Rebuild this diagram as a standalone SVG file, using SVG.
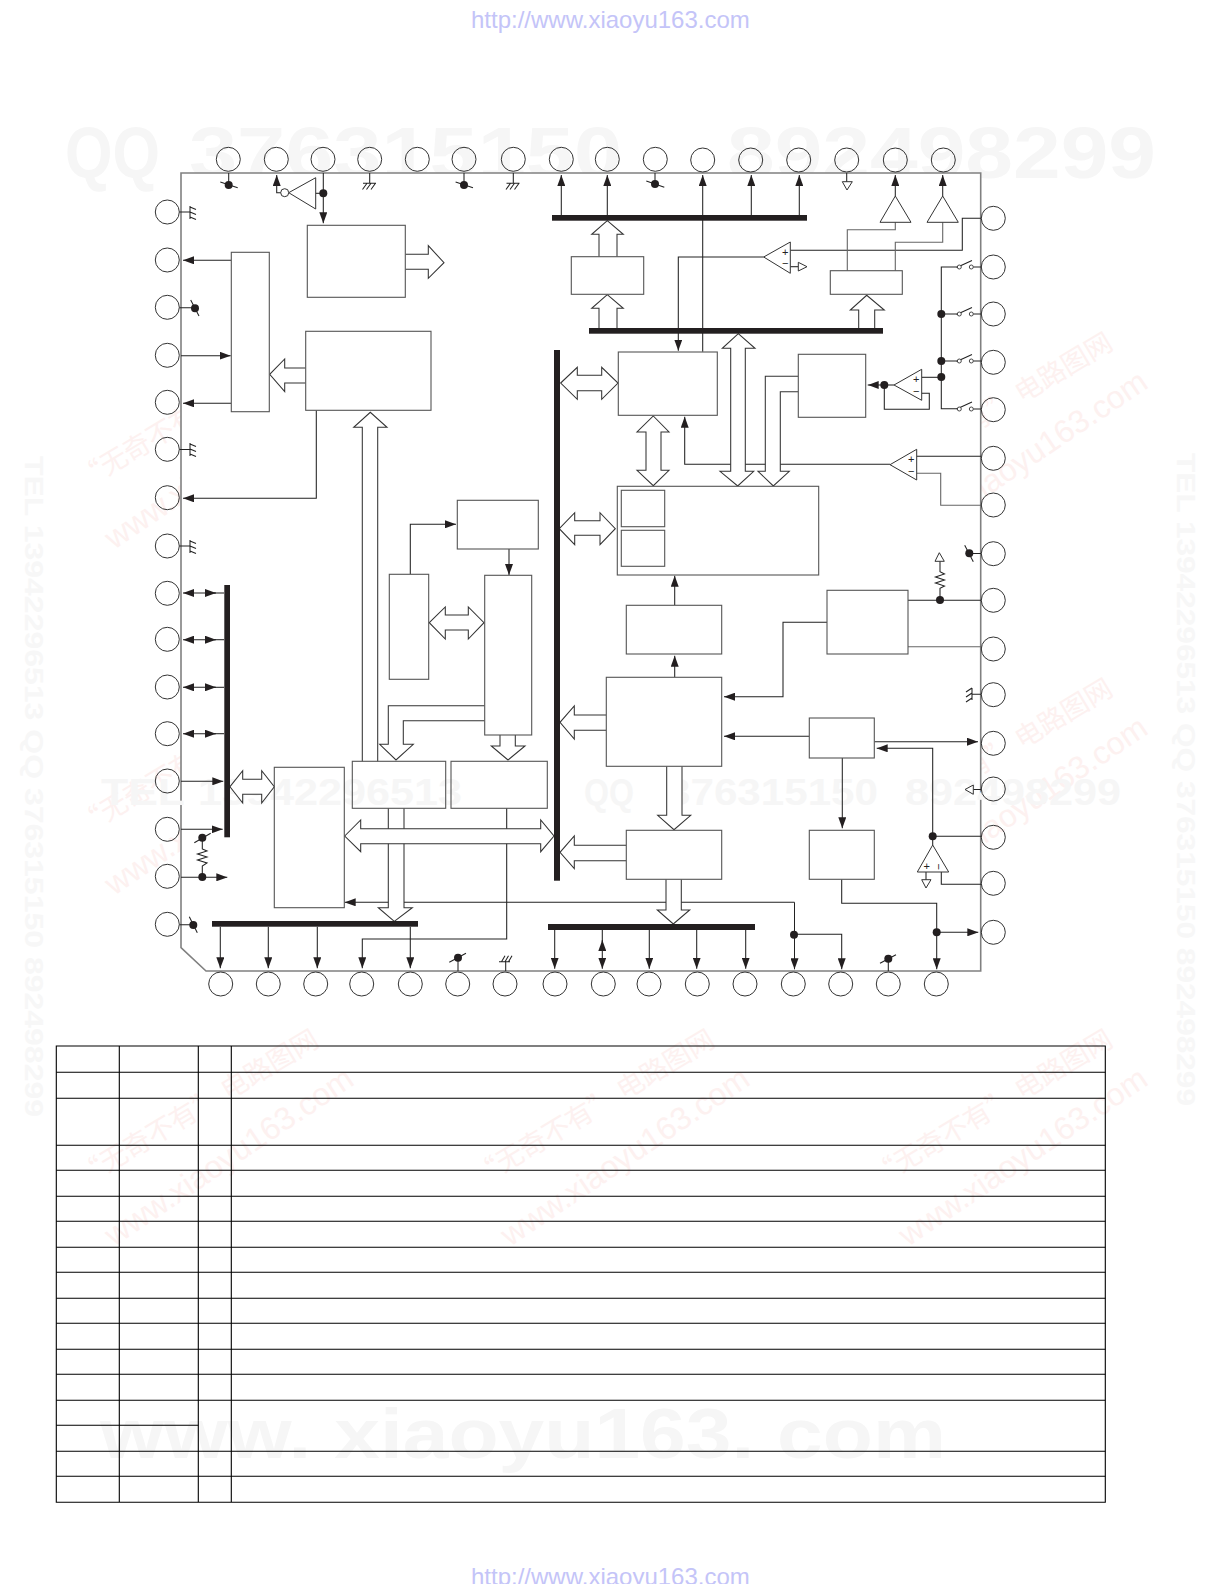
<svg xmlns="http://www.w3.org/2000/svg" width="1222" height="1584" viewBox="0 0 1222 1584">
<style>
.u{font-family:"Liberation Sans",Arial,sans-serif;font-size:24px;fill:#c4c4f8}
.big{font-family:"Liberation Sans",Arial,sans-serif;font-weight:bold;fill:#f6f6f6}
.side{font-family:"Liberation Sans",Arial,sans-serif;font-weight:bold;font-size:25px;fill:#f7f7f7}
.st1{font-family:"Noto Sans CJK SC","Liberation Sans",sans-serif;font-size:27px;fill:#fdf1f0}
.st2{font-family:"Liberation Sans",Arial,sans-serif;font-size:32px;fill:#fdf1f0}
.pin circle{fill:none;stroke:#333;stroke-width:1}
.box{fill:#fff;stroke:#555;stroke-width:1.1}
.ln{fill:none;stroke:#222;stroke-width:1.05}
.gr{fill:none;stroke:#666;stroke-width:1.1}
.ar{fill:none;stroke:#222;stroke-width:1.05;marker-end:url(#h)}
.ad{fill:none;stroke:#222;stroke-width:1.05;marker-end:url(#h);marker-start:url(#hs)}
.ho{fill:#fff;stroke:#333;stroke-width:1.05}
.tri{fill:#fff;stroke:#333;stroke-width:1}
.bus{fill:#231f20}
.dot{fill:#231f20}
.sw{fill:#fff;stroke:#333;stroke-width:.9}
.pm{font-family:"Liberation Sans",Arial,sans-serif;font-size:11px;fill:#222;text-anchor:middle}
.tb{fill:none;stroke:#000;stroke-width:1.1}
</style>
<defs>
<marker id="h" markerUnits="userSpaceOnUse" markerWidth="11" markerHeight="8" viewBox="0 0 11 8" refX="11" refY="4" orient="auto"><path d="M0,0 L11,4 L0,8Z" fill="#231f20"/></marker>
<marker id="hs" markerUnits="userSpaceOnUse" markerWidth="11" markerHeight="8" viewBox="0 0 11 8" refX="11" refY="4" orient="auto-start-reverse"><path d="M0,0 L11,4 L0,8Z" fill="#231f20"/></marker>
</defs>
<rect width="1222" height="1584" fill="#fff"/>
<g id="watermarks-back">
<text class="big" font-size="72" x="65" y="178" textLength="95" lengthAdjust="spacingAndGlyphs">QQ</text>
<text class="big" font-size="72" x="189" y="178" textLength="433" lengthAdjust="spacingAndGlyphs">376315150</text>
<text class="big" font-size="72" x="727" y="178" textLength="429" lengthAdjust="spacingAndGlyphs">892498299</text>
<text class="side" transform="rotate(90 25 456)" x="25" y="456" textLength="661" lengthAdjust="spacingAndGlyphs">TEL 13942296513 QQ 376315150 892498299</text>
<text class="side" transform="rotate(90 1177 453)" x="1177" y="453" textLength="653" lengthAdjust="spacingAndGlyphs">TEL 13942296513 QQ 376315150 892498299</text>
<g transform="translate(84 490)"><text class="st1" transform="rotate(-31)">“无奇不有” 电路图网</text><text class="st2" transform="translate(30 60) rotate(-34)">www.xiaoyu163.com</text></g>
<g transform="translate(84 836)"><text class="st1" transform="rotate(-31)">“无奇不有” 电路图网</text><text class="st2" transform="translate(30 60) rotate(-34)">www.xiaoyu163.com</text></g>
<g transform="translate(878 490)"><text class="st1" transform="rotate(-31)">“无奇不有” 电路图网</text><text class="st2" transform="translate(30 60) rotate(-34)">www.xiaoyu163.com</text></g>
<g transform="translate(878 836)"><text class="st1" transform="rotate(-31)">“无奇不有” 电路图网</text><text class="st2" transform="translate(30 60) rotate(-34)">www.xiaoyu163.com</text></g>
<g transform="translate(84 1187)"><text class="st1" transform="rotate(-31)">“无奇不有” 电路图网</text><text class="st2" transform="translate(30 60) rotate(-34)">www.xiaoyu163.com</text></g>
<g transform="translate(480 1187)"><text class="st1" transform="rotate(-31)">“无奇不有” 电路图网</text><text class="st2" transform="translate(30 60) rotate(-34)">www.xiaoyu163.com</text></g>
<g transform="translate(878 1187)"><text class="st1" transform="rotate(-31)">“无奇不有” 电路图网</text><text class="st2" transform="translate(30 60) rotate(-34)">www.xiaoyu163.com</text></g>
<text class="big" font-size="70" x="100" y="1458" textLength="846" lengthAdjust="spacingAndGlyphs">www. xiaoyu163. com</text>
</g>
<text class="u" x="471" y="28">http://www.xiaoyu163.com</text>
<text class="u" x="471" y="1584.5">http://www.xiaoyu163.com</text>

<path id="chip-frame" d="M181,173 H980.7 V971 H206 L181,947.7Z" fill="#fff" stroke="#808080" stroke-width="1.6"/>
<g id="watermarks-front">
<text class="big" font-size="37" x="101" y="805" textLength="84" lengthAdjust="spacingAndGlyphs">TEL</text>
<text class="big" font-size="37" x="198" y="805" textLength="264" lengthAdjust="spacingAndGlyphs">13942296513</text>
<text class="big" font-size="37" x="584" y="805" textLength="50" lengthAdjust="spacingAndGlyphs">QQ</text>
<text class="big" font-size="37" x="667" y="805" textLength="211" lengthAdjust="spacingAndGlyphs">376315150</text>
<text class="big" font-size="37" x="905" y="805" textLength="216" lengthAdjust="spacingAndGlyphs">892498299</text>
</g>

<g id="connectors">
<!-- thin signal lines -->
<path class="ar" d="M231.3,260.3H183"/>
<path class="ar" d="M181,355.7H230.7"/>
<path class="ar" d="M231.3,403.3H183"/>
<path class="ar" d="M316.3,410.3V498.3H183"/>
<path class="ar" d="M410.3,574.3V524.3H456"/>
<path class="ar" d="M509,549V575"/>
<path class="ln" d="M228.7,173V185M464,173V185"/>
<path class="ln" d="M220.3,182L237.7,187.7M455.6,182L473,187.7M646.3,181L664.3,187.3"/>
<path class="ln" d="M655,173V184"/>
<path class="ar" d="M284.7,192.7H276.7V175"/>
<path class="ar" d="M323.3,173V223.3"/>
<path class="ln" d="M315.7,193.3H323.3"/>
<path class="ar" d="M561.3,215V175"/>
<path class="ar" d="M607.3,215V175"/>
<path class="ar" d="M702.7,351.7V175"/>
<path class="ar" d="M751.3,215V175"/>
<path class="ar" d="M799.3,215V175"/>
<path class="ar" d="M763.7,257H678.3V350.7"/>
<path class="ln" d="M790.3,250.3H962.3V218.3H981"/>
<path class="ln" d="M790.3,266.7H798.3"/>
<path class="ar" d="M895.3,196V175"/>
<path class="ar" d="M942.7,196V175"/>
<path class="gr" d="M895.3,222.3V229.7H847.3V270.7"/>
<path class="gr" d="M942.7,222.3V242.3H895.3V270.7"/>
<path class="ln" d="M846.7,173V182"/>
<path class="ln" d="M958.3,267H941.3V408.7H958.3"/>
<path class="ln" d="M941.3,314H958.3M941.3,361H958.3M973.3,267H981M973.3,314H981M973.3,361H981M973.3,409H981"/>
<path class="ln" d="M921.7,377.3H941.3"/>
<path class="ln" d="M921.7,393.3H929.3V409.3H884.3V385"/>
<path class="ar" d="M894,385H867.7"/>
<path class="ln" d="M916.7,456.3H981"/>
<path class="gr" d="M916.7,473.3H940.7V505.3H981"/>
<path class="ar" d="M890,464.3H684.7V416.7"/>
<path class="ln" d="M981,553.5H971"/>
<path class="ln" d="M908,600.3H981"/>
<path class="gr" d="M908,646.7H981"/>
<path class="ar" d="M827,622.3H783V696.7H724"/>
<path class="ar" d="M674.7,605.3V575.7"/>
<path class="ar" d="M674.7,677.3V655.7"/>
<path class="ar" d="M809.3,736.3H724"/>
<path class="ar" d="M874.3,741.7H978"/>
<path class="ar" d="M932.7,845V748.3H876.7"/>
<path class="ln" d="M932.7,836.3H981"/>
<path class="ln" d="M926,872V880M941.3,872V884.3H981"/>
<path class="ar" d="M842.3,758V828.3"/>
<path class="ar" d="M841.7,879.3V903.3H936.7V969.3"/>
<path class="ar" d="M936.7,932.3H978.3"/>
<path class="ar" d="M794.5,902.3V969.3"/>
<path class="ar" d="M794,934.3H841.7V969.3"/>
<path class="ar" d="M794.5,902.3H344.7"/>
<path class="ar" d="M506.7,808.3V939H362.3V968.3"/>
<path class="ar" d="M220.3,926.7V968.3"/>
<path class="ar" d="M268.3,926.7V968.3"/>
<path class="ar" d="M317.3,926.7V968.3"/>
<path class="ar" d="M410.3,926.7V968.3"/>
<path class="ar" d="M554.7,930V968.7"/>
<path class="ad" d="M602.3,940V968.7"/><path class="ln" d="M602.3,930V942"/>
<path class="ar" d="M649.3,930V968.7"/>
<path class="ar" d="M696.7,930V968.7"/>
<path class="ar" d="M745.7,930V968.7"/>
<path class="ad" d="M183,593H216"/><path class="ln" d="M214,593H224"/>
<path class="ad" d="M183,639.7H216"/><path class="ln" d="M214,639.7H224"/>
<path class="ad" d="M183,687.3H216"/><path class="ln" d="M214,687.3H224"/>
<path class="ad" d="M183,733.7H216"/><path class="ln" d="M214,733.7H224"/>
<path class="ar" d="M181,781.3H223.3"/>
<path class="ar" d="M181,829.3H222.7"/>
<path class="ar" d="M181,877.3H227.3"/>
<path class="ln" d="M202.3,837.7V849L207,851L197.5,854L207,857L197.5,860L207,863L202.3,866V877"/>
<path class="ln" d="M194.3,842.7L210.7,833.3"/>
<path class="ln" d="M940,561.3V571.7L944.5,574L935.5,577L944.5,580L935.5,583L944.5,586L940,588.3V600"/>
<!-- no-connect marks -->
<path class="ln" d="M179.3,307.7H195M190.7,300L199,316"/>
<path class="ln" d="M179.3,924.7H193.3M189.3,916.7L197.3,932.7"/>
<path class="ln" d="M458,971V958M449.3,962.3L466,953.3"/>
<path class="ln" d="M888.3,971V958.7M880,963.3L896,954.7"/>
<path class="ln" d="M964.7,545.3L973.3,561.7"/>
<!-- grounds -->
<path class="ln" d="M369.7,173V183.3M363,183.3H376M367,183.3L362.5,189.5M371,183.3L366.5,189.5M375.5,183.3L371,189.5"/>
<path class="ln" d="M513.3,173V183.3M506.5,183.3H519.5M510.5,183.3L506,189.5M514.5,183.3L510,189.5M519,183.3L514.5,189.5"/>
<path class="ln" d="M179.3,212H190M190,206V219M190,207L196,209.5M190,212L196,214.5M190,217L196,219.5"/>
<path class="ln" d="M179.3,449.5H190M190,443V456M190,444L196,446.5M190,449L196,451.5M190,454L196,456.5"/>
<path class="ln" d="M179.3,546H190M190,540V553M190,541L196,543.5M190,546L196,548.5M190,551L196,553.5"/>
<path class="ln" d="M505.7,971V961.7M499,961.7H510M501.5,961.7L505,955.7M505,961.7L508.5,955.7M508.5,961.7L512,955.7"/>
<path class="ln" d="M981,694.3H972M972,688V700M972,688L966,692M972,693L966,697M972,698L966,702"/>
<path class="ln" d="M981,789.5H973.3"/>
<!-- hollow buses -->
<path class="ho" d="M405.3,254.3H428.3V245.7L444,262.7L428.3,278.3V269.3H405.3"/>
<path class="ho" d="M305.7,368H284.7V359L269.7,374.3L284.7,391.7V383H305.7"/>
<path class="ho" d="M362.3,761.3V427.3H353.7L370.3,412.3L387,427.3H377.7V761.3"/>
<path class="ho" d="M599,256.7V234.3H591.7L607.3,220.7L623.3,234.3H617V256.7"/>
<path class="ho" d="M599,328V308.3H591.7L607.3,294.7L623.3,308.3H617V328"/>
<path class="ho" d="M858.7,328V310H850.3L866.7,295.3L884.3,310H874.7V328"/>
<path class="ho" d="M738.3,333.7L755,348.3H745.3V471.3H753.7L737.7,486L720,471.3H730.7V348.3H722.3Z"/>
<path class="ho" d="M798.3,376.3H765.3V471.3H758L773.3,486L789.3,471.3H780.3V391.7H798.3"/>
<path class="ho" d="M560.7,383L577.3,367.3V375.3H601.7V367.3L618,383L601.7,399.3V390.7H577.3V399.3Z"/>
<path class="ho" d="M653.3,416L669,432H661V470.3H669L653.3,485.7L637,470.3H646V432H637Z"/>
<path class="ho" d="M559.3,528.7L574.7,512.7V520.7H600V512.7L615.3,528.7L600,544.7V535.3H574.7V544.7Z"/>
<path class="ho" d="M429.3,622.7L445.3,607V615H468.3V607L484,622.7L468.3,639V630H445.3V639Z"/>
<path class="ho" d="M484.7,705.7H388.3V744.3H379.7L396,760L413.3,744.3H403.3V720.7H484.7"/>
<path class="ho" d="M500,735V746H491.3L508,760L525,746H515.3V735"/>
<path class="ho" d="M606.3,715H574.3V706L560,722.3L574.3,739V730.3H606.3"/>
<path class="ho" d="M666.7,766.3V815.3H657.7L674,829.7L690.7,815.3H682V766.3"/>
<path class="ho" d="M626.3,845.3H574.3V836L560,852.3L574.3,868.7V860.7H626.3"/>
<path class="ho" d="M666,879.3V910H657.3L673.3,924L689.7,910H681.3V879.3"/>
<path class="ho" d="M388.3,808.3V907.7H378.3L394.3,921.3L412.3,907.7H404V808.3"/>
<path class="ho" d="M344.7,836L360.7,820V828.7H540.7V820L554,836L540.7,851.7V843.7H360.7V851.7Z"/>
<path class="ho" d="M230,786.7L242.7,770.7V779.3H261.7V770.7L274.3,786.7L261.7,803V794.3H242.7V803Z"/>
<!-- buses -->
<rect class="bus" x="552" y="215" width="255" height="5.7"/>
<rect class="bus" x="589" y="328" width="294" height="5.7"/>
<rect class="bus" x="554" y="350" width="6" height="530.7"/>
<rect class="bus" x="224.3" y="585" width="5.7" height="252.3"/>
<rect class="bus" x="212" y="921" width="206" height="5.7"/>
<rect class="bus" x="548" y="924" width="207" height="6"/>
<!-- junction dots -->
<circle class="dot" cx="228.7" cy="185" r="4"/><circle class="dot" cx="464" cy="185" r="4"/><circle class="dot" cx="655" cy="184" r="4"/>
<circle class="dot" cx="323.3" cy="193.3" r="4"/>
<circle class="dot" cx="195" cy="308.3" r="4"/><circle class="dot" cx="193.3" cy="925" r="4"/>
<circle class="dot" cx="202.3" cy="837.7" r="4"/><circle class="dot" cx="202.3" cy="877" r="4"/>
<circle class="dot" cx="458" cy="957.7" r="4"/><circle class="dot" cx="888.3" cy="958.7" r="4"/>
<circle class="dot" cx="969.3" cy="553.3" r="4"/><circle class="dot" cx="940" cy="600" r="4"/>
<circle class="dot" cx="941.3" cy="314" r="4"/><circle class="dot" cx="941.3" cy="361" r="4"/><circle class="dot" cx="941.3" cy="377" r="4"/><circle class="dot" cx="884.3" cy="385" r="4"/>
<circle class="dot" cx="932.7" cy="836.3" r="4"/><circle class="dot" cx="936.7" cy="932.3" r="4"/><circle class="dot" cx="794" cy="934.7" r="4"/>
<!-- switches -->
<g id="switches">
<path class="ln" d="M956.7,267.5L972,260.5M956.7,314.5L972,307.5M956.7,361.5L972,354.5M956.7,409L972,402"/>
<circle class="sw" cx="959.3" cy="267" r="2"/><circle class="sw" cx="971.3" cy="267" r="2"/>
<circle class="sw" cx="959.3" cy="314" r="2"/><circle class="sw" cx="971.3" cy="314" r="2"/>
<circle class="sw" cx="959.3" cy="361" r="2"/><circle class="sw" cx="971.3" cy="361" r="2"/>
<circle class="sw" cx="959.3" cy="409" r="2"/><circle class="sw" cx="971.3" cy="409" r="2"/>
</g>
</g>

<g id="box-a"><rect class="box" x="307.3" y="225.3" width="98" height="72"/></g>
<g id="box-b"><rect class="box" x="231.3" y="252.3" width="38" height="159.4"/></g>
<g id="box-c"><rect class="box" x="305.7" y="331.3" width="125.3" height="79"/></g>
<g id="box-d"><rect class="box" x="457.3" y="500.3" width="81" height="48.7"/></g>
<g id="box-e"><rect class="box" x="389.3" y="574.3" width="39.4" height="105"/></g>
<g id="box-f"><rect class="box" x="484.7" y="575.3" width="47" height="159.7"/></g>
<g id="box-g"><rect class="box" x="571.3" y="256.7" width="72.4" height="37.6"/></g>
<g id="box-h"><rect class="box" x="618.3" y="352" width="99" height="63.3"/></g>
<g id="box-i"><rect class="box" x="830.3" y="270.7" width="72" height="23.6"/></g>
<g id="box-j"><rect class="box" x="798.3" y="354.3" width="67.4" height="63"/></g>
<g id="box-k"><rect class="box" x="617.3" y="486.3" width="201.4" height="88.7"/><rect class="box" x="621.3" y="490.3" width="43.4" height="36.4"/><rect class="box" x="621.3" y="530.3" width="43.4" height="36"/></g>
<g id="box-l"><rect class="box" x="827" y="590.3" width="81" height="63.7"/></g>
<g id="box-m"><rect class="box" x="606.3" y="677.3" width="115.4" height="89"/></g>
<g id="box-n"><rect class="box" x="626.3" y="605.3" width="95.4" height="48.7"/></g>
<g id="box-o"><rect class="box" x="626.3" y="830.3" width="95.4" height="49"/></g>
<g id="box-p"><rect class="box" x="809.3" y="718" width="65" height="40"/></g>
<g id="box-q"><rect class="box" x="809.3" y="830.3" width="65" height="49"/></g>
<g id="box-s"><rect class="box" x="274.3" y="767.3" width="70" height="140.4" style="fill:none"/></g>
<g id="box-t"><rect class="box" x="352.3" y="761.3" width="93.4" height="47" style="fill:none"/></g>
<g id="box-u"><rect class="box" x="451" y="761.3" width="96.3" height="47" style="fill:none"/></g>

<g id="amp-inverter"><path class="tri" d="M288.7,192.7L315.7,177.7V209Z"/><circle class="tri" cx="284.7" cy="192.7" r="4"/></g>
<g id="amp-buf1"><path class="tri" d="M895.3,196L911,222.3H880Z"/></g>
<g id="amp-buf2"><path class="tri" d="M942.7,196L958.3,222.3H927Z"/></g>
<g id="amp-cmp1"><path class="tri" d="M763.7,257L790.3,242V273.3Z"/><text class="pm" x="785.3" y="255.5">+</text><text class="pm" x="785.3" y="267">−</text><path class="tri" d="M798.3,262.3L807,266.7L798.3,271Z"/></g>
<g id="amp-op1"><path class="tri" d="M894,385L921.7,369.3V400.3Z"/><text class="pm" x="916.3" y="383">+</text><text class="pm" x="916.3" y="395">−</text></g>
<g id="amp-cmp2"><path class="tri" d="M890,464.7L916.7,449.3V480Z"/><text class="pm" x="911.3" y="463">+</text><text class="pm" x="911.3" y="475">−</text></g>
<g id="amp-op2"><path class="tri" d="M932.7,845L948.7,872H917.3Z"/><text class="pm" x="926.7" y="870">+</text><text class="pm" transform="rotate(90 939 866.7)" x="939" y="870.5">−</text></g>
<g id="refs">
<path class="tri" d="M842.3,181.7H852.3L847,190Z"/>
<path class="tri" d="M921.7,879.7H931L926,888Z"/>
<path class="tri" d="M965,789.5L973.3,785V794.3Z"/>
<path class="tri" d="M939.3,552.7L944.3,561.3H935Z"/>
</g>

<g id="pins-top" class="pin">
<g id="pin-t1"><circle cx="228.3" cy="159.3" r="12"/></g><g id="pin-t2"><circle cx="276.3" cy="159.3" r="12"/></g><g id="pin-t3"><circle cx="323" cy="159.3" r="12"/></g><g id="pin-t4"><circle cx="369.7" cy="159.3" r="12"/></g><g id="pin-t5"><circle cx="417.3" cy="159.3" r="12"/></g><g id="pin-t6"><circle cx="464" cy="159.3" r="12"/></g><g id="pin-t7"><circle cx="513.3" cy="159.3" r="12"/></g><g id="pin-t8"><circle cx="561.3" cy="159.3" r="12"/></g><g id="pin-t9"><circle cx="607.3" cy="159.3" r="12"/></g><g id="pin-t10"><circle cx="655.3" cy="159.3" r="12"/></g><g id="pin-t11"><circle cx="702.7" cy="160" r="12"/></g><g id="pin-t12"><circle cx="750.7" cy="160" r="12"/></g><g id="pin-t13"><circle cx="798.7" cy="160" r="12"/></g><g id="pin-t14"><circle cx="846.7" cy="160" r="12"/></g><g id="pin-t15"><circle cx="895.3" cy="160" r="12"/></g><g id="pin-t16"><circle cx="943.3" cy="160" r="12"/></g>
</g>
<g id="pins-left" class="pin">
<g id="pin-l1"><circle cx="167.3" cy="212" r="12"/></g><g id="pin-l2"><circle cx="167.3" cy="260" r="12"/></g><g id="pin-l3"><circle cx="167.3" cy="307.3" r="12"/></g><g id="pin-l4"><circle cx="167.3" cy="355.3" r="12"/></g><g id="pin-l5"><circle cx="167.3" cy="402.3" r="12"/></g><g id="pin-l6"><circle cx="167.3" cy="449.3" r="12"/></g><g id="pin-l7"><circle cx="167.3" cy="497.7" r="12"/></g><g id="pin-l8"><circle cx="167.3" cy="546" r="12"/></g><g id="pin-l9"><circle cx="167.3" cy="593.3" r="12"/></g><g id="pin-l10"><circle cx="167.3" cy="639.3" r="12"/></g><g id="pin-l11"><circle cx="167.3" cy="687" r="12"/></g><g id="pin-l12"><circle cx="167.3" cy="733.7" r="12"/></g><g id="pin-l13"><circle cx="167.3" cy="781" r="12"/></g><g id="pin-l14"><circle cx="167.3" cy="829.3" r="12"/></g><g id="pin-l15"><circle cx="167.3" cy="876.3" r="12"/></g><g id="pin-l16"><circle cx="167.3" cy="924.3" r="12"/></g>
</g>
<g id="pins-bottom" class="pin">
<g id="pin-b1"><circle cx="220.7" cy="984" r="12"/></g><g id="pin-b2"><circle cx="268.3" cy="984" r="12"/></g><g id="pin-b3"><circle cx="315.7" cy="984" r="12"/></g><g id="pin-b4"><circle cx="361.7" cy="984" r="12"/></g><g id="pin-b5"><circle cx="410.3" cy="984" r="12"/></g><g id="pin-b6"><circle cx="457.7" cy="984" r="12"/></g><g id="pin-b7"><circle cx="505" cy="984" r="12"/></g><g id="pin-b8"><circle cx="555" cy="984" r="12"/></g><g id="pin-b9"><circle cx="603.3" cy="984" r="12"/></g><g id="pin-b10"><circle cx="649" cy="984" r="12"/></g><g id="pin-b11"><circle cx="697.3" cy="984" r="12"/></g><g id="pin-b12"><circle cx="745" cy="984" r="12"/></g><g id="pin-b13"><circle cx="793.3" cy="984" r="12"/></g><g id="pin-b14"><circle cx="840.7" cy="984" r="12"/></g><g id="pin-b15"><circle cx="888.3" cy="984" r="12"/></g><g id="pin-b16"><circle cx="936.3" cy="984" r="12"/></g>
</g>
<g id="pins-right" class="pin">
<g id="pin-r1"><circle cx="993.3" cy="218.3" r="12"/></g><g id="pin-r2"><circle cx="993.3" cy="267" r="12"/></g><g id="pin-r3"><circle cx="993.3" cy="314" r="12"/></g><g id="pin-r4"><circle cx="993.3" cy="362.3" r="12"/></g><g id="pin-r5"><circle cx="993.3" cy="409.7" r="12"/></g><g id="pin-r6"><circle cx="993.3" cy="458.3" r="12"/></g><g id="pin-r7"><circle cx="993.3" cy="505" r="12"/></g><g id="pin-r8"><circle cx="993.3" cy="553.7" r="12"/></g><g id="pin-r9"><circle cx="993.3" cy="600.3" r="12"/></g><g id="pin-r10"><circle cx="993.3" cy="649" r="12"/></g><g id="pin-r11"><circle cx="993.3" cy="694.7" r="12"/></g><g id="pin-r12"><circle cx="993.3" cy="743.3" r="12"/></g><g id="pin-r13"><circle cx="993.3" cy="789" r="12"/></g><g id="pin-r14"><circle cx="993.3" cy="837.3" r="12"/></g><g id="pin-r15"><circle cx="993.3" cy="883.3" r="12"/></g><g id="pin-r16"><circle cx="993.3" cy="932.3" r="12"/></g>
</g>

<g id="table">
<path class="tb" d="M56.3,1046H1105.3V1502.3H56.3ZM119.3,1046V1502.3M198.3,1046V1502.3M231.3,1046V1502.3"/>
<path class="tb" d="M56.3,1072.3H1105.3M56.3,1098.3H1105.3M56.3,1145.3H1105.3M56.3,1170.3H1105.3M56.3,1196.3H1105.3M56.3,1221.3H1105.3M56.3,1247.3H1105.3M56.3,1272.3H1105.3M56.3,1298.3H1105.3M56.3,1323.3H1105.3M56.3,1349.3H1105.3M56.3,1374.3H1105.3M56.3,1400.3H1105.3M56.3,1425.3H198.3M56.3,1451.3H1105.3M56.3,1476.3H1105.3"/>
</g>
</svg>
